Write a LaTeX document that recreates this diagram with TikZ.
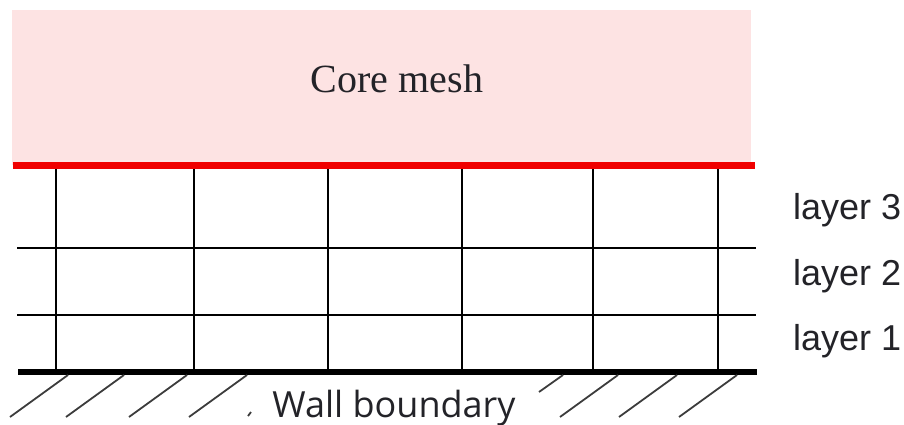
\documentclass[tikz,border=0pt]{standalone}
\usepackage{fontspec}
\setmainfont{Liberation Serif}
\newfontfamily\labelfont{Liberation Sans}
\newfontfamily\wallfont{Open Sans}
\definecolor{corepink}{RGB}{253,227,227}
\definecolor{corered}{RGB}{240,0,0}
\definecolor{hatchgray}{RGB}{60,60,60}
\definecolor{textgray}{RGB}{35,35,40}
\begin{document}
\begin{tikzpicture}[x=1pt,y=-1pt,
  gridline/.style={line width=2.8pt,black},
  hatchline/.style={line width=1.8pt,hatchgray},
  layerlabel/.style={font=\labelfont\fontsize{36}{40}\selectfont,text=textgray,inner sep=0pt,anchor=west}]
  \useasboundingbox (0,0) rectangle (904,425);

  % core mesh region
  \fill[corepink] (12,10) rectangle (751,165);
  \node[font=\fontsize{40}{44}\selectfont,text=textgray,inner sep=0pt] (core) at (397,79) {Core mesh};

  % prism layers: horizontal layer boundaries
  \draw[gridline] (17,248) -- (756,248);
  \draw[gridline] (17,315) -- (756,315);

  % vertical mesh lines
  \foreach \x in {56,194,328,462,593,718}
    \draw[gridline] (\x,165) -- (\x,371);

  % interface between core and layers
  \draw[corered,line width=7pt] (13,165) -- (755,165);

  % wall boundary
  \draw[line width=6pt,black] (18,372) -- (757,372);

  % hatching under the wall
  \foreach \x in {68,124,187,247,618,677,737}
    \draw[hatchline] (\x,375) -- ++(-58,42);
  \draw[hatchline] (563,375) -- (539,392);
  \draw[hatchline] (251,412) -- (248,416);

  % labels
  \node[font=\wallfont\fontsize{36}{40}\selectfont,text=textgray,inner sep=0pt,anchor=base] (wall) at (394,417) {Wall boundary};
  \node[layerlabel] (l3) at (793,210) {layer 3};
  \node[layerlabel] (l2) at (793,276) {layer 2};
  \node[layerlabel] (l1) at (793,341) {layer 1};
\end{tikzpicture}
\end{document}
